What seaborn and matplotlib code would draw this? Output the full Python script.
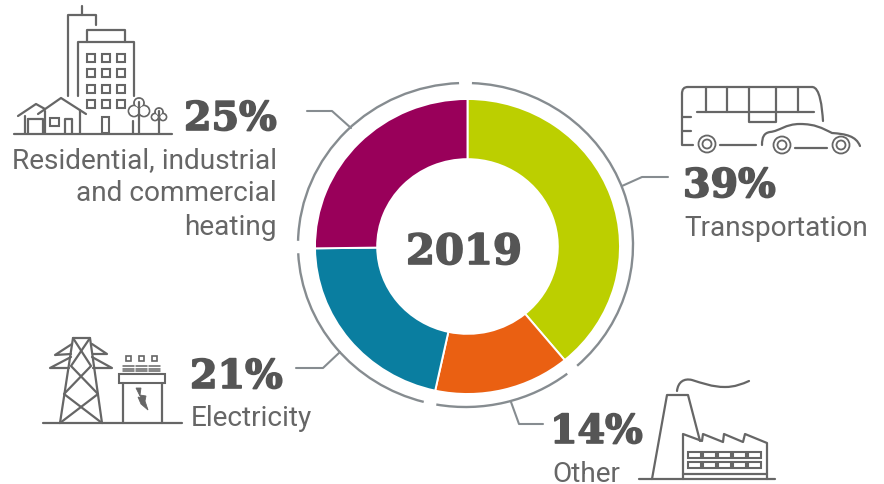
import numpy as np
import matplotlib.pyplot as plt
import matplotlib.patheffects as pe
from matplotlib.patches import Arc, Circle, Rectangle, PathPatch, Polygon
from matplotlib.path import Path
import seaborn as sns

year = '2019'
categories = ['Transportation', 'Other', 'Electricity', 'Residential, industrial\nand commercial\nheating']
# shares read from the arcs, they round to the printed percentages
values = [39.0, 14.4, 21.4, 25.2]
colors = ['#BCCF00', '#EA6012', '#0A7EA0', '#99005A']

sns.set_theme(style='white')
plt.rcParams['font.family'] = ['Roboto', 'DejaVu Sans']

W, H = 884, 485
TEXT = '#555555'
ICON = '#666666'
RING = '#868C90'

fig = plt.figure(figsize=(W / 100, H / 100), dpi=100, facecolor='white')

# donut axes, placed in pixels (the reference is a little wider than tall)
cx, cy, rx, ry = 467.5, 247.5, 152.5, 147.5
hx, hy = 1.25 * rx, 1.25 * ry
ax = fig.add_axes([(cx - hx) / W, 1 - (cy + hy) / H, 2 * hx / W, 2 * hy / H])
ax.pie(values, colors=sns.color_palette(colors), startangle=90, counterclock=False,
       radius=1, wedgeprops=dict(width=1 - 90.3 / rx, edgecolor='white', linewidth=1.4))
ax.set_aspect('auto')
ax.set_xlim(-1.25, 1.25)
ax.set_ylim(-1.25, 1.25)

# ring around the donut, one arc per slice
edges = np.concatenate([[0], np.cumsum(values)]) / sum(values) * 360
gap = 2.2
ring_c = (-2 / rx, 1.5 / ry)
ring_d = 2 * 167.5 / rx
for a, b in zip(edges[:-1], edges[1:]):
    ax.add_patch(Arc(ring_c, ring_d, ring_d, theta1=90 - b + gap, theta2=90 - a - gap, color=RING, lw=1.7))

# overlay in pixel coordinates for labels and icons
ov = fig.add_axes([0, 0, 1, 1], facecolor='none')
ov.set_xlim(0, W)
ov.set_ylim(H, 0)
ov.axis('off')

ov.text(464, 265, year, ha='center', va='baseline', family='DejaVu Serif', weight='bold',
        fontsize=30, color=TEXT, path_effects=[pe.withStroke(linewidth=1.2, foreground=TEXT)])


def line(pts, color=ICON, lw=1.6):
    xs, ys = zip(*pts)
    ov.plot(xs, ys, color=color, lw=lw, solid_capstyle='round', solid_joinstyle='round')


def box(x0, y0, x1, y1, lw=1.5):
    ov.add_patch(Rectangle((x0, y0), x1 - x0, y1 - y0, fill=False, ec=ICON, lw=lw))


def curve(verts, lw=1.6):
    codes = [Path.MOVETO] + [Path.CURVE4] * (len(verts) - 1)
    ov.add_patch(PathPatch(Path(verts, codes), fill=False, ec=ICON, lw=lw, capstyle='round'))


def pct(x, y, value):
    ov.text(x, y, f'{round(value)}%', ha='left', va='baseline', family='DejaVu Serif', weight='bold',
            fontsize=28.5, color=TEXT, path_effects=[pe.withStroke(linewidth=1.2, foreground=TEXT)])


def label(x, y, s, ha='left'):
    ov.text(x, y, s, ha=ha, va='center', fontsize=20.2, color='#666666', linespacing=1.33)


pct(184, 131, values[3])
pct(683, 198, values[0])
pct(190, 389, values[2])
pct(550, 444, values[1])
label(277, 194, categories[3], ha='right')
label(684, 229, categories[0])
label(191, 419, categories[2])
label(552, 475, categories[1])

# leader lines
line([(307, 112), (332, 112), (351, 129)], RING, 1.5)
line([(622, 187), (642, 178), (668, 178)], RING, 1.5)
line([(340, 353), (323, 369), (296, 369)], RING, 1.5)
line([(511, 403), (519, 425), (543, 425)], RING, 1.5)

# building icon
line([(14, 134.5), (172, 134.5)])
line([(68, 97), (68, 16), (96, 16), (96, 26)])
line([(82, 16), (82, 7)])
line([(78, 97), (78, 43), (134, 43), (134, 97)])
line([(87, 43), (87, 31), (125, 31), (125, 43)])
for wx in (87, 102, 117):
    for wy in (55, 70, 86, 101):
        box(wx, wy, wx + 8, wy + 8)
box(102, 118, 109, 134)
line([(18, 117), (36, 105), (45, 110)])
line([(38, 115), (61, 99), (86, 115)])
line([(25, 117), (25, 134)])
line([(28, 120), (43, 120), (43, 134)])
line([(28, 120), (28, 134)])
line([(45, 112), (45, 134)])
line([(80, 111), (80, 134)])
box(50, 119, 59, 127)
line([(65, 134), (65, 120), (72, 120), (72, 134)])
line([(133, 122), (133, 134)])
for tx, ty, tr in [(139, 104, 5), (134, 112, 5.5), (144, 112, 5.5), (159, 113, 4), (155, 118, 3.5), (163, 118, 3.5)]:
    ov.add_patch(Circle((tx, ty), tr, fill=True, fc='white', ec=ICON, lw=1.3))
for tx, ty, tr in [(139, 104, 4), (134, 112, 4.5), (144, 112, 4.5), (159, 113, 3), (155, 118, 2.5), (163, 118, 2.5)]:
    ov.add_patch(Circle((tx, ty), tr, fill=True, fc='white', ec='none'))
line([(139, 103), (139, 134)])
line([(159, 112), (159, 134)])

# bus and car icon
line([(693, 146), (682, 146), (682, 95)])
curve([(682, 95), (682, 90), (684, 88), (688, 88)])
line([(688, 88), (812, 88)])
curve([(812, 88), (820, 88), (822, 108), (823, 122)])
line([(697, 113), (814, 113)])
for vx in (706, 727, 798):
    line([(vx, 88), (vx, 113)])
line([(749, 88), (749, 123), (776, 123), (776, 88)])
line([(682, 118), (691, 118)])
line([(682, 132), (691, 132)])
line([(720, 146), (756, 146)])
line([(795, 149), (827, 149)])
curve([(762, 146), (762, 138), (764, 134), (770, 133), (780, 132), (785, 125), (800, 125),
       (815, 125), (822, 129), (832, 134), (846, 135), (856, 137), (860, 147)])
for wx, wy in [(707, 145), (782, 146), (841, 146)]:
    ov.add_patch(Circle((wx, wy), 9.5, fc='white', ec='none'))
    for rr in (8.5, 4.5):
        ov.add_patch(Circle((wx, wy), rr, fill=False, ec=ICON, lw=1.3))

# pylon and transformer icon
line([(43, 424), (182, 424)])
line([(60, 424), (73, 339), (90, 339), (102, 424)])
line([(73, 339), (91, 367), (64, 395), (102, 424)])
line([(90, 339), (71, 367), (98, 395), (60, 424)])
line([(71, 355), (55, 356), (72, 345)])
line([(93, 355), (107, 355), (92, 345)])
line([(69, 369), (50, 369), (71, 358)])
line([(93, 369), (112, 369), (92, 358)])
line([(123, 384), (123, 424)])
line([(162, 384), (162, 424)])
ov.add_patch(Rectangle((119, 375), 46, 9, fill=False, ec=ICON, lw=1.5))
for fx in (123, 136, 149):
    for fy in (367, 369.5, 372):
        line([(fx, fy), (fx + 11, fy)], lw=1.1)
    box(fx + 3, 357, fx + 8, 361.5, lw=1.2)
ov.add_patch(Polygon([(136, 389), (141, 389), (140, 396), (146, 397), (145, 402), (148, 411),
                      (141, 405), (138, 398), (141, 399)], fc=ICON, ec=ICON, lw=0.6))

# factory icon
line([(639, 480), (775, 480)])
line([(652, 480), (667, 396), (688, 396), (700, 442)])
curve([(677, 392), (678, 383), (684, 379), (692, 381), (702, 384), (712, 388), (725, 388),
       (735, 388), (742, 385), (749, 382)])
line([(683, 480), (683, 435), (702, 442), (703, 435), (723, 443), (724, 435), (743, 443), (745, 435),
      (767, 444), (767, 480)])
line([(683, 475), (767, 475)])
for wx in (688, 703, 718, 733, 748):
    for wy in (453, 463):
        box(wx, wy, wx + 13, wy + 6)

fig.savefig('out.png', dpi=100, facecolor='white')
